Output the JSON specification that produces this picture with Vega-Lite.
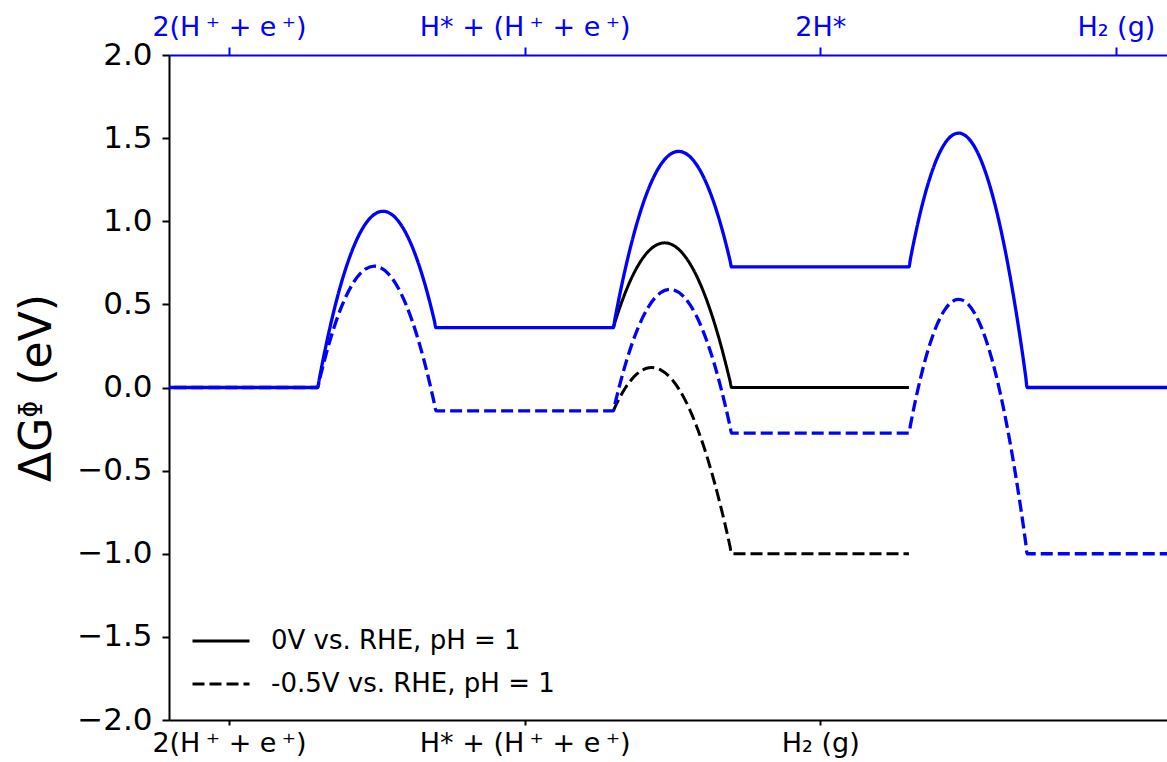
{
  "$schema": "https://vega.github.io/schema/vega-lite/v6.json",
  "width": 998,
  "height": 665,
  "autosize": {"type": "none"},
  "padding": {"left": 169, "top": 55, "right": 0, "bottom": 42},
  "config": {"view": {"stroke": null}, "font": "DejaVu Sans"},
  "data": {
    "values": [
      {"pathway": "II", "potential": "0V vs. RHE, pH = 1", "x": 1.3, "dG": 0.36},
      {"pathway": "II", "potential": "0V vs. RHE, pH = 1", "x": 1.305, "dG": 0.389},
      {"pathway": "II", "potential": "0V vs. RHE, pH = 1", "x": 1.34, "dG": 0.5682},
      {"pathway": "II", "potential": "0V vs. RHE, pH = 1", "x": 1.38, "dG": 0.722},
      {"pathway": "II", "potential": "0V vs. RHE, pH = 1", "x": 1.42, "dG": 0.8216},
      {"pathway": "II", "potential": "0V vs. RHE, pH = 1", "x": 1.46, "dG": 0.867},
      {"pathway": "II", "potential": "0V vs. RHE, pH = 1", "x": 1.4734, "dG": 0.87},
      {"pathway": "II", "potential": "0V vs. RHE, pH = 1", "x": 1.5, "dG": 0.858},
      {"pathway": "II", "potential": "0V vs. RHE, pH = 1", "x": 1.54, "dG": 0.7948},
      {"pathway": "II", "potential": "0V vs. RHE, pH = 1", "x": 1.58, "dG": 0.6773},
      {"pathway": "II", "potential": "0V vs. RHE, pH = 1", "x": 1.62, "dG": 0.5055},
      {"pathway": "II", "potential": "0V vs. RHE, pH = 1", "x": 1.66, "dG": 0.2795},
      {"pathway": "II", "potential": "0V vs. RHE, pH = 1", "x": 1.695, "dG": 0.0371},
      {"pathway": "II", "potential": "0V vs. RHE, pH = 1", "x": 1.7, "dG": 0},
      {"pathway": "II", "potential": "0V vs. RHE, pH = 1", "x": 2.3, "dG": 0},

      {"pathway": "II", "potential": "-0.5V vs. RHE, pH = 1", "x": 1.3, "dG": -0.14},
      {"pathway": "II", "potential": "-0.5V vs. RHE, pH = 1", "x": 1.305, "dG": -0.1204},
      {"pathway": "II", "potential": "-0.5V vs. RHE, pH = 1", "x": 1.34, "dG": -0.0047},
      {"pathway": "II", "potential": "-0.5V vs. RHE, pH = 1", "x": 1.38, "dG": 0.0814},
      {"pathway": "II", "potential": "-0.5V vs. RHE, pH = 1", "x": 1.42, "dG": 0.1184},
      {"pathway": "II", "potential": "-0.5V vs. RHE, pH = 1", "x": 1.4301, "dG": 0.12},
      {"pathway": "II", "potential": "-0.5V vs. RHE, pH = 1", "x": 1.46, "dG": 0.1063},
      {"pathway": "II", "potential": "-0.5V vs. RHE, pH = 1", "x": 1.5, "dG": 0.0449},
      {"pathway": "II", "potential": "-0.5V vs. RHE, pH = 1", "x": 1.54, "dG": -0.0655},
      {"pathway": "II", "potential": "-0.5V vs. RHE, pH = 1", "x": 1.58, "dG": -0.2252},
      {"pathway": "II", "potential": "-0.5V vs. RHE, pH = 1", "x": 1.62, "dG": -0.4339},
      {"pathway": "II", "potential": "-0.5V vs. RHE, pH = 1", "x": 1.66, "dG": -0.6919},
      {"pathway": "II", "potential": "-0.5V vs. RHE, pH = 1", "x": 1.695, "dG": -0.9579},
      {"pathway": "II", "potential": "-0.5V vs. RHE, pH = 1", "x": 1.7, "dG": -1},
      {"pathway": "II", "potential": "-0.5V vs. RHE, pH = 1", "x": 2.3, "dG": -1},

      {"pathway": "I", "potential": "0V vs. RHE, pH = 1", "x": -0.3, "dG": 0},
      {"pathway": "I", "potential": "0V vs. RHE, pH = 1", "x": 0.3, "dG": 0},
      {"pathway": "I", "potential": "0V vs. RHE, pH = 1", "x": 0.305, "dG": 0.0476},
      {"pathway": "I", "potential": "0V vs. RHE, pH = 1", "x": 0.34, "dG": 0.3495},
      {"pathway": "I", "potential": "0V vs. RHE, pH = 1", "x": 0.38, "dG": 0.6292},
      {"pathway": "I", "potential": "0V vs. RHE, pH = 1", "x": 0.42, "dG": 0.8393},
      {"pathway": "I", "potential": "0V vs. RHE, pH = 1", "x": 0.46, "dG": 0.9798},
      {"pathway": "I", "potential": "0V vs. RHE, pH = 1", "x": 0.5, "dG": 1.0507},
      {"pathway": "I", "potential": "0V vs. RHE, pH = 1", "x": 0.5207, "dG": 1.06},
      {"pathway": "I", "potential": "0V vs. RHE, pH = 1", "x": 0.54, "dG": 1.0519},
      {"pathway": "I", "potential": "0V vs. RHE, pH = 1", "x": 0.58, "dG": 0.9835},
      {"pathway": "I", "potential": "0V vs. RHE, pH = 1", "x": 0.62, "dG": 0.8454},
      {"pathway": "I", "potential": "0V vs. RHE, pH = 1", "x": 0.66, "dG": 0.6378},
      {"pathway": "I", "potential": "0V vs. RHE, pH = 1", "x": 0.695, "dG": 0.3989},
      {"pathway": "I", "potential": "0V vs. RHE, pH = 1", "x": 0.7, "dG": 0.36},
      {"pathway": "I", "potential": "0V vs. RHE, pH = 1", "x": 1.3, "dG": 0.36},
      {"pathway": "I", "potential": "0V vs. RHE, pH = 1", "x": 1.305, "dG": 0.4076},
      {"pathway": "I", "potential": "0V vs. RHE, pH = 1", "x": 1.34, "dG": 0.7091},
      {"pathway": "I", "potential": "0V vs. RHE, pH = 1", "x": 1.38, "dG": 0.9886},
      {"pathway": "I", "potential": "0V vs. RHE, pH = 1", "x": 1.42, "dG": 1.1986},
      {"pathway": "I", "potential": "0V vs. RHE, pH = 1", "x": 1.46, "dG": 1.3393},
      {"pathway": "I", "potential": "0V vs. RHE, pH = 1", "x": 1.5, "dG": 1.4104},
      {"pathway": "I", "potential": "0V vs. RHE, pH = 1", "x": 1.521, "dG": 1.42},
      {"pathway": "I", "potential": "0V vs. RHE, pH = 1", "x": 1.54, "dG": 1.4122},
      {"pathway": "I", "potential": "0V vs. RHE, pH = 1", "x": 1.58, "dG": 1.3445},
      {"pathway": "I", "potential": "0V vs. RHE, pH = 1", "x": 1.62, "dG": 1.2073},
      {"pathway": "I", "potential": "0V vs. RHE, pH = 1", "x": 1.66, "dG": 1.0007},
      {"pathway": "I", "potential": "0V vs. RHE, pH = 1", "x": 1.695, "dG": 0.763},
      {"pathway": "I", "potential": "0V vs. RHE, pH = 1", "x": 1.7, "dG": 0.725},
      {"pathway": "I", "potential": "0V vs. RHE, pH = 1", "x": 2.3, "dG": 0.725},
      {"pathway": "I", "potential": "0V vs. RHE, pH = 1", "x": 2.305, "dG": 0.7722},
      {"pathway": "I", "potential": "0V vs. RHE, pH = 1", "x": 2.34, "dG": 1.0624},
      {"pathway": "I", "potential": "0V vs. RHE, pH = 1", "x": 2.38, "dG": 1.3087},
      {"pathway": "I", "potential": "0V vs. RHE, pH = 1", "x": 2.42, "dG": 1.4639},
      {"pathway": "I", "potential": "0V vs. RHE, pH = 1", "x": 2.46, "dG": 1.5281},
      {"pathway": "I", "potential": "0V vs. RHE, pH = 1", "x": 2.4682, "dG": 1.53},
      {"pathway": "I", "potential": "0V vs. RHE, pH = 1", "x": 2.5, "dG": 1.5012},
      {"pathway": "I", "potential": "0V vs. RHE, pH = 1", "x": 2.54, "dG": 1.3833},
      {"pathway": "I", "potential": "0V vs. RHE, pH = 1", "x": 2.58, "dG": 1.1743},
      {"pathway": "I", "potential": "0V vs. RHE, pH = 1", "x": 2.62, "dG": 0.8743},
      {"pathway": "I", "potential": "0V vs. RHE, pH = 1", "x": 2.66, "dG": 0.4833},
      {"pathway": "I", "potential": "0V vs. RHE, pH = 1", "x": 2.695, "dG": 0.0664},
      {"pathway": "I", "potential": "0V vs. RHE, pH = 1", "x": 2.7, "dG": 0},
      {"pathway": "I", "potential": "0V vs. RHE, pH = 1", "x": 3.3, "dG": 0},

      {"pathway": "I", "potential": "-0.5V vs. RHE, pH = 1", "x": -0.3, "dG": 0},
      {"pathway": "I", "potential": "-0.5V vs. RHE, pH = 1", "x": 0.3, "dG": 0},
      {"pathway": "I", "potential": "-0.5V vs. RHE, pH = 1", "x": 0.305, "dG": 0.0376},
      {"pathway": "I", "potential": "-0.5V vs. RHE, pH = 1", "x": 0.34, "dG": 0.2735},
      {"pathway": "I", "potential": "-0.5V vs. RHE, pH = 1", "x": 0.38, "dG": 0.4831},
      {"pathway": "I", "potential": "-0.5V vs. RHE, pH = 1", "x": 0.42, "dG": 0.6288},
      {"pathway": "I", "potential": "-0.5V vs. RHE, pH = 1", "x": 0.46, "dG": 0.7106},
      {"pathway": "I", "potential": "-0.5V vs. RHE, pH = 1", "x": 0.4912, "dG": 0.73},
      {"pathway": "I", "potential": "-0.5V vs. RHE, pH = 1", "x": 0.5, "dG": 0.7285},
      {"pathway": "I", "potential": "-0.5V vs. RHE, pH = 1", "x": 0.54, "dG": 0.6824},
      {"pathway": "I", "potential": "-0.5V vs. RHE, pH = 1", "x": 0.58, "dG": 0.5725},
      {"pathway": "I", "potential": "-0.5V vs. RHE, pH = 1", "x": 0.62, "dG": 0.3987},
      {"pathway": "I", "potential": "-0.5V vs. RHE, pH = 1", "x": 0.66, "dG": 0.161},
      {"pathway": "I", "potential": "-0.5V vs. RHE, pH = 1", "x": 0.695, "dG": -0.0994},
      {"pathway": "I", "potential": "-0.5V vs. RHE, pH = 1", "x": 0.7, "dG": -0.14},
      {"pathway": "I", "potential": "-0.5V vs. RHE, pH = 1", "x": 1.3, "dG": -0.14},
      {"pathway": "I", "potential": "-0.5V vs. RHE, pH = 1", "x": 1.305, "dG": -0.1024},
      {"pathway": "I", "potential": "-0.5V vs. RHE, pH = 1", "x": 1.34, "dG": 0.1331},
      {"pathway": "I", "potential": "-0.5V vs. RHE, pH = 1", "x": 1.38, "dG": 0.3425},
      {"pathway": "I", "potential": "-0.5V vs. RHE, pH = 1", "x": 1.42, "dG": 0.4882},
      {"pathway": "I", "potential": "-0.5V vs. RHE, pH = 1", "x": 1.46, "dG": 0.5702},
      {"pathway": "I", "potential": "-0.5V vs. RHE, pH = 1", "x": 1.4915, "dG": 0.59},
      {"pathway": "I", "potential": "-0.5V vs. RHE, pH = 1", "x": 1.5, "dG": 0.5886},
      {"pathway": "I", "potential": "-0.5V vs. RHE, pH = 1", "x": 1.54, "dG": 0.5432},
      {"pathway": "I", "potential": "-0.5V vs. RHE, pH = 1", "x": 1.58, "dG": 0.4341},
      {"pathway": "I", "potential": "-0.5V vs. RHE, pH = 1", "x": 1.62, "dG": 0.2613},
      {"pathway": "I", "potential": "-0.5V vs. RHE, pH = 1", "x": 1.66, "dG": 0.0248},
      {"pathway": "I", "potential": "-0.5V vs. RHE, pH = 1", "x": 1.695, "dG": -0.2343},
      {"pathway": "I", "potential": "-0.5V vs. RHE, pH = 1", "x": 1.7, "dG": -0.275},
      {"pathway": "I", "potential": "-0.5V vs. RHE, pH = 1", "x": 2.3, "dG": -0.275},
      {"pathway": "I", "potential": "-0.5V vs. RHE, pH = 1", "x": 2.305, "dG": -0.2278},
      {"pathway": "I", "potential": "-0.5V vs. RHE, pH = 1", "x": 2.34, "dG": 0.0624},
      {"pathway": "I", "potential": "-0.5V vs. RHE, pH = 1", "x": 2.38, "dG": 0.3087},
      {"pathway": "I", "potential": "-0.5V vs. RHE, pH = 1", "x": 2.42, "dG": 0.4639},
      {"pathway": "I", "potential": "-0.5V vs. RHE, pH = 1", "x": 2.46, "dG": 0.5281},
      {"pathway": "I", "potential": "-0.5V vs. RHE, pH = 1", "x": 2.4682, "dG": 0.53},
      {"pathway": "I", "potential": "-0.5V vs. RHE, pH = 1", "x": 2.5, "dG": 0.5012},
      {"pathway": "I", "potential": "-0.5V vs. RHE, pH = 1", "x": 2.54, "dG": 0.3833},
      {"pathway": "I", "potential": "-0.5V vs. RHE, pH = 1", "x": 2.58, "dG": 0.1743},
      {"pathway": "I", "potential": "-0.5V vs. RHE, pH = 1", "x": 2.62, "dG": -0.1257},
      {"pathway": "I", "potential": "-0.5V vs. RHE, pH = 1", "x": 2.66, "dG": -0.5167},
      {"pathway": "I", "potential": "-0.5V vs. RHE, pH = 1", "x": 2.695, "dG": -0.9336},
      {"pathway": "I", "potential": "-0.5V vs. RHE, pH = 1", "x": 2.7, "dG": -1},
      {"pathway": "I", "potential": "-0.5V vs. RHE, pH = 1", "x": 3.3, "dG": -1}
    ]
  },
  "encoding": {
    "y": {
      "field": "dG",
      "type": "quantitative",
      "scale": {"domain": [-2, 2], "nice": false},
      "axis": {
        "title": "ΔGᶲ (eV)",
        "titleFontSize": 44,
        "titleFontWeight": "normal",
        "titleColor": "#000000",
        "titlePadding": 17,
        "values": [-2, -1.5, -1, -0.5, 0, 0.5, 1, 1.5, 2],
        "format": ".1f",
        "labelFontSize": 31,
        "labelColor": "#000000",
        "labelPadding": 10,
        "labelFlush": false,
        "labelOverlap": false,
        "tickSize": 7,
        "tickWidth": 2,
        "tickColor": "#000000",
        "domainWidth": 2,
        "domainColor": "#000000",
        "grid": false
      }
    },
    "color": {
      "field": "pathway",
      "type": "nominal",
      "scale": {"domain": ["I", "II"], "range": ["#0000ff", "#000000"]},
      "legend": null
    },
    "strokeDash": {
      "field": "potential",
      "type": "nominal",
      "scale": {
        "domain": ["0V vs. RHE, pH = 1", "-0.5V vs. RHE, pH = 1"],
        "range": [[1, 0], [12, 5]]
      },
      "legend": {
        "title": null,
        "orient": "none",
        "legendX": 22,
        "legendY": 556,
        "padding": 0,
        "symbolType": "stroke",
        "symbolSize": 3249,
        "symbolStrokeWidth": 3,
        "symbolStrokeColor": "#000000",
        "labelFontSize": 26,
        "labelFont": "DejaVu Sans",
        "labelColor": "#000000",
        "labelOffset": 20,
        "rowPadding": -15,
        "labelLimit": 600
      }
    }
  },
  "layer": [
    {
      "transform": [{"filter": "datum.pathway === 'II'"}],
      "mark": {"type": "line", "strokeWidth": 3, "clip": true, "interpolate": "monotone"},
      "encoding": {
        "x": {
          "field": "x",
          "type": "quantitative",
          "scale": {"domain": [-0.203, 3.173], "nice": false, "zero": false},
          "axis": {
            "orient": "bottom",
            "title": null,
            "values": [0, 1, 2],
            "labelExpr": "datum.value == 0 ? '2(H\u2009⁺ + e\u2009⁺)' : datum.value == 1 ? 'H* + (H\u2009⁺ + e\u2009⁺)' : 'H₂ (g)'",
            "labelFontSize": 27,
            "labelColor": "#000000",
            "labelPadding": 5,
            "labelLimit": 600,
            "labelFlush": false,
            "labelOverlap": false,
            "tickSize": 5,
            "tickWidth": 2,
            "tickColor": "#000000",
            "domainWidth": 2,
            "domainColor": "#000000",
            "grid": false
          }
        }
      }
    },
    {
      "transform": [{"filter": "datum.pathway === 'I'"}],
      "mark": {"type": "line", "strokeWidth": 3.3, "clip": true, "interpolate": "monotone"},
      "encoding": {
        "x": {
          "field": "x",
          "type": "quantitative",
          "scale": {"domain": [-0.203, 3.173], "nice": false, "zero": false},
          "axis": {
            "orient": "top",
            "title": null,
            "values": [0, 1, 2, 3],
            "labelExpr": "datum.value == 0 ? '2(H\u2009⁺ + e\u2009⁺)' : datum.value == 1 ? 'H* + (H\u2009⁺ + e\u2009⁺)' : datum.value == 2 ? '2H*' : 'H₂ (g)'",
            "labelFontSize": 27,
            "labelColor": "#0000ff",
            "labelPadding": 6,
            "labelLimit": 600,
            "labelFlush": false,
            "labelOverlap": false,
            "tickSize": 8,
            "tickWidth": 2,
            "tickColor": "#0000ff",
            "domainWidth": 2,
            "domainColor": "#0000ff",
            "grid": false
          }
        }
      }
    }
  ],
  "resolve": {"axis": {"x": "independent"}}
}
